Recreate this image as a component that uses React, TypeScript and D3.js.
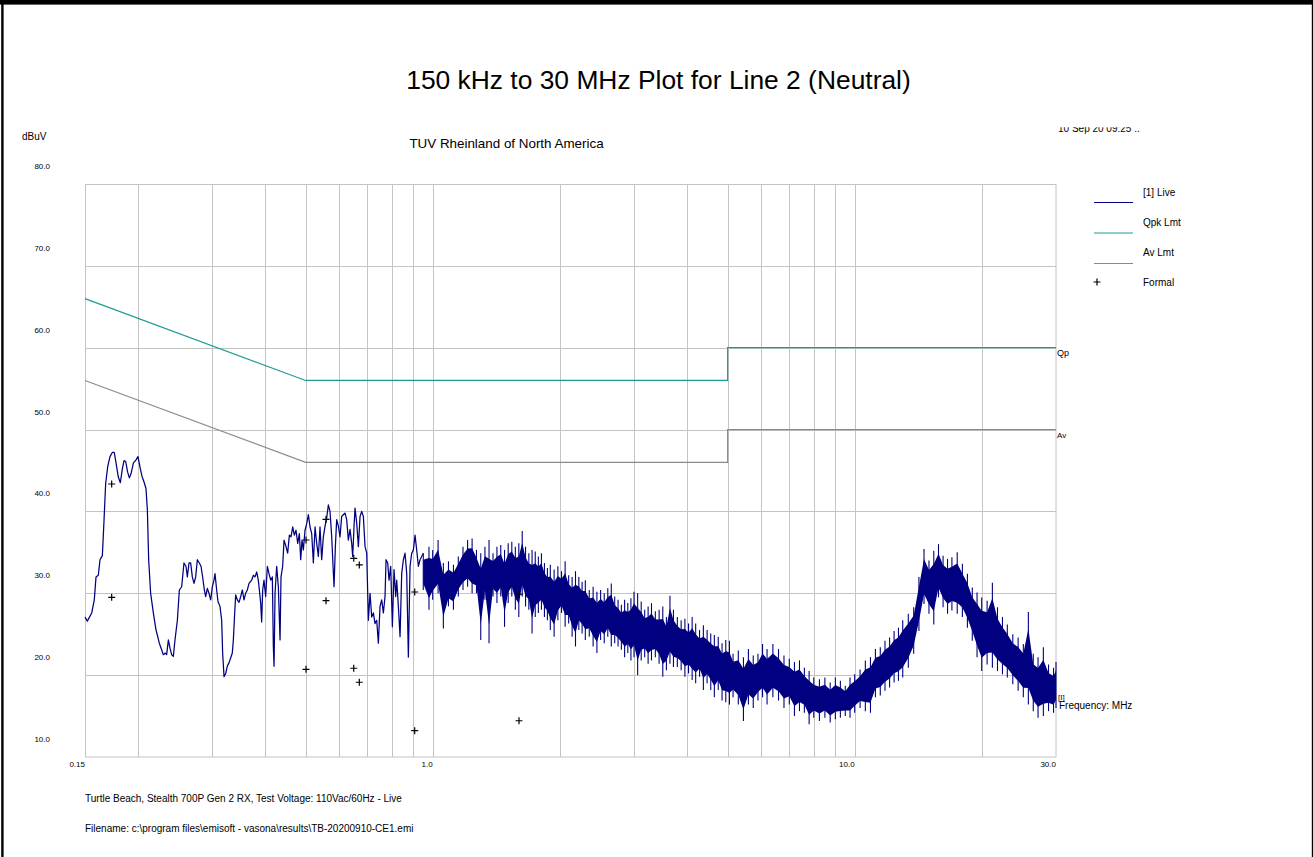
import React, { useEffect, useRef } from 'react';
import * as d3 from 'd3';

const W = 1313;
const H = 857;

// ---- axis / labels ----
const yTicks = [10, 20, 30, 40, 50, 60, 70, 80];
const xLabelValues = [0.15, 1, 10, 30];
const xLabelTexts = ['0.15', '1.0', '10.0', '30.0'];
const gridFreqs = [0.2, 0.3, 0.4, 0.5, 0.6, 0.7, 0.8, 0.9, 1, 2, 3, 4, 5, 6, 7, 8, 9, 10, 20];

// ---- limits ----
const qpkFreq = [0.15, 0.5, 5, 5, 30];
const qpkLevel = [66, 56, 56, 60, 60];
const avFreq = [0.15, 0.5, 5, 5, 30];
const avLevel = [56, 46, 46, 50, 50];

// ---- live trace, low band (single sweep line) ----
const sweepFreq = [
  0.150, 0.1519, 0.1556, 0.1578, 0.1593, 0.1613, 0.1628, 0.1649, 0.1664, 0.1679,
  0.1697, 0.1719, 0.1741, 0.1760, 0.1777, 0.1799, 0.1819, 0.1839, 0.1856, 0.1873,
  0.1893, 0.1911, 0.1928, 0.1953, 0.1981, 0.2003, 0.2025, 0.2047, 0.2070, 0.2092,
  0.2108, 0.2123, 0.2146, 0.2178, 0.2210, 0.2226, 0.2250, 0.2279, 0.2300, 0.2325,
  0.2342, 0.2364, 0.2385, 0.2407, 0.2429, 0.2451, 0.2483, 0.2510, 0.2542, 0.2574,
  0.2603, 0.2622, 0.2646, 0.2670, 0.2694, 0.2719, 0.2744, 0.2769, 0.2799, 0.2825,
  0.2850, 0.2877, 0.2898, 0.2924, 0.2951, 0.2978, 0.3005, 0.3032, 0.3049, 0.3077,
  0.3099, 0.3133, 0.3162, 0.3179, 0.3203, 0.3232, 0.3261, 0.3291, 0.3321, 0.3351,
  0.3370, 0.3395, 0.3413, 0.3444, 0.3476, 0.3508, 0.3540, 0.3572, 0.3604, 0.3637,
  0.3671, 0.3724, 0.3759, 0.3793, 0.3828, 0.3862, 0.3884, 0.3912, 0.3933, 0.3955,
  0.3984, 0.4020, 0.4057, 0.4094, 0.4132, 0.4169, 0.4192, 0.4208, 0.4231, 0.4269,
  0.4308, 0.4348, 0.4371, 0.4411, 0.4444, 0.4492, 0.4533, 0.4575, 0.4617, 0.4659,
  0.4701, 0.4744, 0.4788, 0.4831, 0.4867, 0.4902, 0.4938, 0.4983, 0.5029, 0.5075,
  0.5121, 0.5168, 0.5215, 0.5263, 0.5311, 0.5359, 0.5408,
  0.5457, 0.5507, 0.5558, 0.5608, 0.5660, 0.5711, 0.5764, 0.5806, 0.5838, 0.5880,
  0.5923, 0.5977, 0.6032, 0.6087, 0.6143, 0.6199, 0.6255, 0.6312, 0.6370, 0.6428,
  0.6464, 0.6511, 0.6546, 0.6606, 0.6667, 0.6728, 0.6789, 0.6851, 0.6914, 0.6977,
  0.7041, 0.7105, 0.7170, 0.7235, 0.7301, 0.7368, 0.7435, 0.7503, 0.7572, 0.7641,
  0.7711, 0.7753, 0.7824, 0.7881, 0.7953, 0.8026, 0.8099, 0.8173, 0.8218, 0.8293,
  0.8369, 0.8445, 0.8522, 0.8600, 0.8679, 0.8758, 0.8838, 0.8919, 0.9000, 0.9082,
  0.9165, 0.9249, 0.9334,
];
const sweepLevel = [
  27.1, 26.6, 27.6, 29.2, 32.0, 32.2, 34.1, 34.6, 38.9, 43.4,
  45.4, 46.7, 47.2, 47.2, 45.9, 44.2, 43.5, 45.2, 46.2, 46.1,
  44.8, 44.1, 44.6, 45.9, 46.3, 46.7, 45.4, 44.3, 43.6, 42.8,
  40.2, 34.1, 30.0, 27.6, 25.5, 24.9, 23.9, 23.1, 22.5, 22.7,
  22.5, 24.3, 23.3, 22.5, 22.3, 24.3, 26.7, 30.4, 30.8, 33.7,
  33.3, 32.0, 33.7, 33.7, 32.0, 31.2, 32.0, 34.1, 33.7, 33.3,
  32.0, 30.4, 29.6, 30.6, 30.0, 29.2, 30.8, 31.6, 32.4, 30.4,
  29.0, 28.4, 26.7, 22.7, 19.8, 20.2, 21.1, 21.5, 22.1, 22.7,
  24.3, 27.6, 29.8, 29.2, 28.9, 29.6, 30.4, 29.2, 30.0, 30.4,
  31.2, 31.6, 32.2, 32.0, 32.6, 31.6, 30.4, 28.8, 26.5, 30.4,
  31.6, 29.6, 33.3, 32.4, 31.6, 32.0, 23.5, 21.1, 30.0, 33.3,
  30.8, 24.3, 32.0, 33.3, 36.5, 35.7, 34.9, 37.1, 36.9, 38.1,
  37.1, 37.7, 36.1, 37.3, 34.1, 36.5, 35.3, 37.7, 38.5, 39.6,
  38.1, 37.3, 33.7, 38.1, 36.1, 34.5, 38.1,
  34.1, 36.9, 38.2, 39.2, 40.8, 40.0, 36.9, 33.3, 30.8, 35.7,
  39.0, 38.2, 36.9, 39.4, 39.6, 39.8, 39.0, 36.5, 37.8, 36.1,
  34.5, 38.2, 40.4, 38.6, 35.7, 39.4, 40.0, 39.4, 35.7, 34.9,
  26.7, 30.0, 27.1, 27.6, 26.3, 26.7, 23.9, 28.4, 29.2, 27.6,
  29.6, 34.1, 33.7, 31.6, 33.3, 25.9, 32.9, 29.6, 31.6, 28.4,
  24.7, 32.4, 34.1, 34.9, 32.4, 22.2, 33.3, 34.9, 35.3, 37.1,
  35.3, 33.3, 34.1,
];

// ---- live trace, upper band (dense sweep: max / min per step) ----
const bandFreq = [
  0.95, 0.98, 1.0, 1.03, 1.06, 1.09, 1.12, 1.15, 1.18, 1.21,
  1.24, 1.27, 1.30, 1.33, 1.36, 1.39, 1.42, 1.45, 1.48, 1.51,
  1.54, 1.57, 1.60, 1.63, 1.66, 1.69, 1.72, 1.75, 1.78, 1.81,
  1.84, 1.87, 1.90, 1.94, 1.98, 2.02, 2.06, 2.10, 2.14, 2.18,
  2.22, 2.26, 2.30, 2.35, 2.40, 2.45, 2.50, 2.55, 2.60, 2.65,
  2.70, 2.75, 2.80, 2.85, 2.90, 2.95, 3.00, 3.06, 3.12, 3.18,
  3.24, 3.30, 3.37, 3.44, 3.51, 3.58, 3.65, 3.72, 3.80, 3.88,
  3.96, 4.04, 4.12, 4.20, 4.29, 4.38, 4.47, 4.56, 4.65, 4.75,
  4.85, 4.95, 5.05, 5.15, 5.30, 5.45, 5.60, 5.75, 5.90, 6.05,
  6.20, 6.40, 6.60, 6.80, 7.00, 7.20, 7.40, 7.60, 7.80, 8.00,
  8.25, 8.50, 8.75, 9.00, 9.25, 9.50, 9.75, 10.0, 10.3, 10.6,
  10.9, 11.2, 11.5, 11.8, 12.1, 12.4, 12.7, 13.0, 13.4, 13.8,
  14.2, 14.6, 15.0, 15.4, 15.8, 16.2, 16.6, 17.0, 17.5, 18.0,
  18.5, 19.0, 19.5, 20.0, 20.6, 21.2, 21.8, 22.4, 23.0, 23.7,
  24.4, 25.1, 25.8, 26.5, 27.2, 28.0, 28.8, 29.6, 30.0,
];
const bandHi = [
  34.9, 35.7, 35.3, 36.5, 33.7, 33.9, 33.5, 34.5, 35.7, 36.5,
  36.7, 35.3, 34.9, 35.7, 36.5, 34.9, 35.7, 35.9, 35.3, 36.1,
  36.3, 35.7, 36.1, 37.6, 35.7, 34.9, 35.3, 35.1, 34.5, 34.9,
  33.7, 33.1, 33.5, 32.9, 33.3, 32.7, 33.9, 32.2, 32.0, 32.7,
  32.0, 31.4, 31.6, 30.4, 30.8, 30.2, 30.4, 30.0, 30.6, 31.2,
  29.6, 29.2, 28.6, 29.2, 28.8, 29.4, 30.2, 30.0, 29.0, 28.0,
  28.4, 28.8, 27.8, 28.0, 28.4, 27.1, 29.7, 28.0, 27.1, 26.7,
  26.9, 26.3, 27.1, 26.3, 25.5, 26.1, 25.5, 25.1, 24.9, 24.7,
  23.9, 24.3, 24.2, 22.6, 23.0, 22.2, 23.2, 22.4, 22.6, 23.8,
  23.2, 23.8, 23.2, 22.4, 22.0, 21.6, 21.8, 20.9, 20.5, 19.7,
  19.5, 19.7, 19.1, 19.7, 19.3, 18.7, 19.7, 20.1, 20.7, 21.8,
  22.2, 23.2, 23.4, 24.2, 24.6, 25.4, 25.8, 26.7, 27.5, 28.3,
  32.0, 35.4, 34.0, 35.2, 36.0, 34.6, 34.2, 34.4, 35.0, 33.6,
  32.4, 30.7, 30.1, 29.5, 29.1, 31.3, 28.3, 27.1, 26.2, 25.0,
  24.6, 23.8, 27.7, 22.6, 22.2, 23.4, 21.3, 20.9, 21.6,
];
const bandLo = [
  30.4, 28.0, 29.2, 30.0, 25.7, 28.4, 28.0, 29.6, 30.4, 30.8,
  30.0, 30.0, 24.3, 29.2, 23.9, 29.6, 28.8, 29.6, 25.9, 28.8,
  29.6, 28.0, 27.1, 29.6, 28.4, 28.0, 25.1, 27.1, 27.6, 28.0,
  27.1, 26.7, 25.5, 24.7, 26.7, 27.6, 25.9, 26.3, 24.7, 23.5,
  25.5, 25.1, 24.3, 24.7, 23.5, 22.7, 24.3, 23.9, 24.7, 23.5,
  23.9, 23.5, 23.1, 22.2, 22.7, 21.8, 22.2, 20.0, 21.8, 22.2,
  21.4, 21.8, 22.2, 21.4, 19.8, 20.6, 21.4, 21.0, 21.0, 20.6,
  19.8, 20.2, 19.4, 19.0, 19.8, 18.2, 19.0, 18.2, 17.3, 18.2,
  16.9, 16.7, 16.4, 17.3, 16.4, 14.4, 16.4, 16.0, 16.9, 17.3,
  16.4, 17.3, 16.9, 16.0, 16.4, 15.0, 15.6, 15.4, 14.0, 14.8,
  14.4, 14.8, 14.2, 14.6, 14.8, 15.0, 14.8, 15.4, 16.0, 15.6,
  15.4, 17.3, 17.5, 18.1, 18.5, 19.1, 19.3, 19.7, 20.9, 22.6,
  25.4, 28.7, 27.5, 26.2, 29.5, 28.3, 27.5, 27.9, 27.5, 27.1,
  25.8, 24.2, 22.2, 20.5, 21.3, 20.9, 20.5, 20.1, 19.7, 18.9,
  18.1, 17.3, 16.4, 15.6, 14.8, 15.0, 15.6, 15.4, 16.0,
];

// ---- formal (final) measurements ----
const formalFreq = [0.1735, 0.1735, 0.501, 0.501, 0.5588, 0.5588, 0.650, 0.650, 0.6701, 0.6701, 0.9066, 0.9066, 1.6016, 1.6016];
const formalLevel = [43.35, 29.51, 36.51, 20.71, 39.04, 29.10, 34.27, 20.84, 33.46, 19.13, 30.16, 13.21, 29.88, 14.43];

const legendNames = ['[1] Live', 'Qpk Lmt', 'Av Lmt', 'Formal'];
const LIVE = '#000080';
const QPK = '#1f9a96';
const AVC = '#8a8a8a';
const GRID = '#c4c4c4';
const FONT = '"Liberation Sans", Arial, Helvetica, sans-serif';

export default function App() {
  const ref = useRef<SVGSVGElement | null>(null);

  useEffect(() => {
    document.body.style.margin = '0';
    const svg = d3.select(ref.current);
    svg.selectAll('*').remove();

    const x = d3.scaleLog().domain([0.15, 30]).range([85, 1056]);
    const y = d3.scaleLinear().domain([10, 80]).range([757, 184]);

    svg.append('rect').attr('x', 0).attr('y', 0).attr('width', W).attr('height', H).attr('fill', '#fff');

    // frame borders
    svg.append('rect').attr('x', 0).attr('y', 0).attr('width', W).attr('height', 4.6).attr('fill', '#000');
    svg.append('rect').attr('x', 1.2).attr('y', 0).attr('width', 2.4).attr('height', H).attr('fill', '#000');
    svg.append('rect').attr('x', 1311.8).attr('y', 0).attr('width', 1.2).attr('height', H).attr('fill', '#000');

    // title
    svg.append('text').attr('x', 658.5).attr('y', 89).attr('text-anchor', 'middle')
      .attr('font-family', FONT).attr('font-size', 26.4).text('150 kHz to 30 MHz Plot for Line 2 (Neutral)');
    svg.append('text').attr('x', 506.5).attr('y', 147.5).attr('text-anchor', 'middle')
      .attr('font-family', FONT).attr('font-size', 13.4).text('TUV Rheinland of North America');
    svg.append('text').attr('x', 22).attr('y', 140).attr('font-family', FONT).attr('font-size', 10).text('dBuV');

    // clipped date stamp
    const defs = svg.append('defs');
    defs.append('clipPath').attr('id', 'dateClip').append('rect')
      .attr('x', 1000).attr('y', 127.2).attr('width', 300).attr('height', 20);
    svg.append('text').attr('x', 1058).attr('y', 131.5).attr('font-family', FONT).attr('font-size', 10)
      .attr('clip-path', 'url(#dateClip)').text('10 Sep 20 09:25 ..');

    // grid
    const g = svg.append('g');
    g.selectAll('line.v').data(gridFreqs).enter().append('line')
      .attr('x1', (d) => Math.round(x(d)) + 0.5).attr('x2', (d) => Math.round(x(d)) + 0.5)
      .attr('y1', y(80)).attr('y2', y(10)).attr('stroke', GRID).attr('stroke-width', 1);
    g.selectAll('line.h').data(yTicks.slice(1, -1)).enter().append('line')
      .attr('x1', x(0.15)).attr('x2', x(30))
      .attr('y1', (d) => Math.round(y(d)) + 0.5).attr('y2', (d) => Math.round(y(d)) + 0.5)
      .attr('stroke', GRID).attr('stroke-width', 1);
    g.append('rect').attr('x', 85.5).attr('y', 184.5).attr('width', 970.5).attr('height', 572.5)
      .attr('fill', 'none').attr('stroke', GRID).attr('stroke-width', 1);

    // y labels
    svg.selectAll('text.yl').data(yTicks).enter().append('text')
      .attr('x', 50).attr('y', (d) => y(d) - 15).attr('text-anchor', 'end')
      .attr('font-family', FONT).attr('font-size', 8).text((d) => d.toFixed(1));
    // x labels
    svg.selectAll('text.xl').data(xLabelValues).enter().append('text')
      .attr('x', (d) => x(d)).attr('y', 767).attr('text-anchor', 'end')
      .attr('font-family', FONT).attr('font-size', 8).text((d, i) => xLabelTexts[i]);

    // limits
    const limLine = d3.line<number>().x((d, i) => x(qpkFreq[i])).y((d) => y(d));
    svg.append('path').attr('d', limLine(qpkLevel) || '').attr('fill', 'none').attr('stroke', QPK).attr('stroke-width', 1.2);
    const avLine = d3.line<number>().x((d, i) => x(avFreq[i])).y((d) => y(d));
    svg.append('path').attr('d', avLine(avLevel) || '').attr('fill', 'none').attr('stroke', AVC).attr('stroke-width', 1.2);

    // live trace, low band
    const sw = d3.line<number>().x((d, i) => x(sweepFreq[i])).y((d) => y(d));
    svg.append('path').attr('d', sw(sweepLevel) || '').attr('fill', 'none').attr('stroke', LIVE)
      .attr('stroke-width', 1.25).attr('stroke-linejoin', 'round');

    // live trace, dense band: solid core + max/min needles
    const core = d3.area<number>()
      .x((d, i) => x(bandFreq[i]))
      .y0((d, i) => y(bandLo[i] + 0.18 * (bandHi[i] - bandLo[i])))
      .y1((d, i) => y(bandHi[i] - 0.18 * (bandHi[i] - bandLo[i])));
    svg.append('path').attr('d', core(bandHi) || '').attr('fill', LIVE);
    // connect low band line into band
    const lastI = sweepFreq.length - 1;
    svg.append('path')
      .attr('d', `M${x(sweepFreq[lastI])},${y(sweepLevel[lastI])}L${x(bandFreq[0])},${y(bandHi[0])}`)
      .attr('stroke', LIVE).attr('stroke-width', 1.2).attr('fill', 'none');
    svg.selectAll('line.needle').data(bandFreq).enter().append('line')
      .attr('x1', (d) => x(d)).attr('x2', (d) => x(d))
      .attr('y1', (d, i) => y(bandHi[i])).attr('y2', (d, i) => y(bandLo[i]))
      .attr('stroke', LIVE).attr('stroke-width', 1.1);

    // formal markers
    const plus = (cx: number, cy: number) => `M${cx - 3.5},${cy}H${cx + 3.5}M${cx},${cy - 3.5}V${cy + 3.5}`;
    svg.selectAll('path.fm').data(formalLevel).enter().append('path')
      .attr('d', (d, i) => plus(x(formalFreq[i]), y(d))).attr('stroke', '#000').attr('stroke-width', 1.2);

    // right side labels
    svg.append('text').attr('x', 1057).attr('y', 356).attr('font-family', FONT).attr('font-size', 9).text('Qp');
    svg.append('text').attr('x', 1057).attr('y', 438).attr('font-family', FONT).attr('font-size', 8).text('Av');
    svg.append('text').attr('x', 1058).attr('y', 700).attr('font-family', FONT).attr('font-size', 8).text('[I]');
    svg.append('text').attr('x', 1059).attr('y', 708.5).attr('font-family', FONT).attr('font-size', 10).text('Frequency: MHz');

    // legend
    const legColors = [LIVE, QPK, AVC];
    legendNames.forEach((name, i) => {
      const ty = 195.5 + i * 30;
      svg.append('text').attr('x', 1143).attr('y', ty).attr('font-family', FONT).attr('font-size', 10).text(name);
      if (i < 3) {
        svg.append('line').attr('x1', 1094).attr('x2', 1133).attr('y1', 202.5 + i * 30.5).attr('y2', 202.5 + i * 30.5)
          .attr('stroke', legColors[i]).attr('stroke-width', 1.2);
      } else {
        svg.append('path').attr('d', plus(1097, 282)).attr('stroke', '#000').attr('stroke-width', 1.2);
      }
    });

    // footer
    svg.append('text').attr('x', 85).attr('y', 801.5).attr('font-family', FONT).attr('font-size', 10)
      .text('Turtle Beach, Stealth 700P Gen 2 RX, Test Voltage: 110Vac/60Hz - Live');
    svg.append('text').attr('x', 85).attr('y', 831.5).attr('font-family', FONT).attr('font-size', 10)
      .text('Filename: c:\\program files\\emisoft - vasona\\results\\TB-20200910-CE1.emi');
  }, []);

  return <svg ref={ref} width={W} height={H} style={{ display: 'block' }} />;
}
